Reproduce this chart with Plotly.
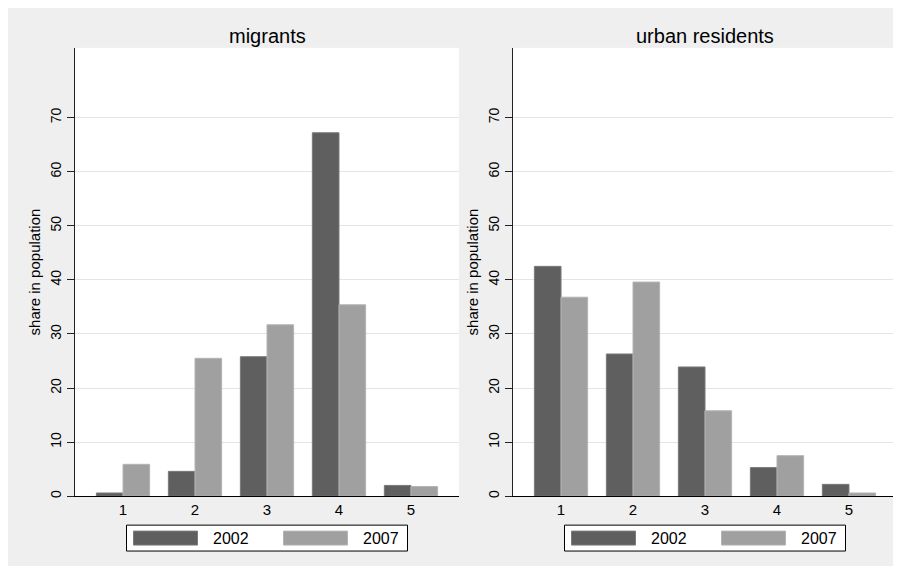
import plotly.graph_objects as go

# ---- data ----
categories = [1, 2, 3, 4, 5]
series_names = ["2002", "2007"]
migrants_2002 = [0.6, 4.6, 25.8, 67.2, 2.0]
migrants_2007 = [5.9, 25.5, 31.7, 35.4, 1.8]
urban_2002 = [42.5, 26.3, 23.9, 5.3, 2.2]
urban_2007 = [36.8, 39.6, 15.8, 7.5, 0.6]
panel_titles = ["migrants", "urban residents"]
y_title = "share in population"
y_ticks = [0, 10, 20, 30, 40, 50, 60, 70]

# ---- style ----
W, H = 891, 558          # figure size; the page adds an 8px body margin
OFF = 8
FONT = "Liberation Sans, Arial, sans-serif"
C2002, C2007 = "#5f5f5f", "#a0a0a0"
E2002, E2007 = "#7a7a7a", "#b4b4b4"
BG = "#efefef"

def px_x(p):
    return (p - OFF) / W

def px_y(p):
    return 1 - (p - OFF) / H

plot_top, plot_bot = 48, 498
panels_px = [(75, 459), (513, 897)]

fig = go.Figure()
data = [(migrants_2002, migrants_2007), (urban_2002, urban_2007)]
for i, (s02, s07) in enumerate(data):
    xa = "x" if i == 0 else "x2"
    ya = "y" if i == 0 else "y2"
    fig.add_trace(go.Bar(x=categories, y=s02, name=series_names[0], xaxis=xa, yaxis=ya,
                         marker=dict(color=C2002, line=dict(color=E2002, width=1)),
                         showlegend=False))
    fig.add_trace(go.Bar(x=categories, y=s07, name=series_names[1], xaxis=xa, yaxis=ya,
                         marker=dict(color=C2007, line=dict(color=E2007, width=1)),
                         showlegend=False))

ydom = [px_y(plot_bot), px_y(plot_top)]
axis_common_x = dict(range=[1 - 0.667, 5 + 0.667], tickvals=categories,
                     showline=True, linecolor="black", linewidth=1, ticks="",
                     showgrid=False, zeroline=False,
                     tickfont=dict(family=FONT, size=15, color="black"))
axis_common_y = dict(range=[0, 82.9], tickvals=y_ticks, showline=True,
                     linecolor="#222", linewidth=1, ticks="outside", ticklen=7,
                     tickcolor="#222", tickangle=-90, showgrid=True,
                     gridcolor="#e4e4e4", gridwidth=1, zeroline=False,
                     tickfont=dict(family=FONT, size=14, color="black"),
                     title=dict(text=y_title, font=dict(family=FONT, size=15, color="black"),
                                standoff=4))

fig.update_layout(
    width=W, height=H,
    margin=dict(l=0, r=0, t=0, b=0),
    paper_bgcolor=BG, plot_bgcolor="white",
    barmode="group", bargap=0.26, bargroupgap=0,
    font=dict(family=FONT, color="black"),
    xaxis=dict(domain=[px_x(panels_px[0][0]), px_x(panels_px[0][1])], anchor="y", **axis_common_x),
    xaxis2=dict(domain=[px_x(panels_px[1][0]), px_x(panels_px[1][1])], anchor="y2", **axis_common_x),
    yaxis=dict(domain=ydom, anchor="x", **axis_common_y),
    yaxis2=dict(domain=ydom, anchor="x2", **axis_common_y),
)

shapes = []
annotations = []
for i, (l, r) in enumerate(panels_px):
    cx = (l + r) / 2
    annotations.append(dict(text=panel_titles[i], x=px_x(cx), y=px_y(36), xref="paper", yref="paper",
                            showarrow=False, xanchor="center", yanchor="middle",
                            font=dict(family=FONT, size=20, color="black")))
    # legend box
    bl = cx - 140.5
    shapes.append(dict(type="rect", xref="paper", yref="paper", layer="above",
                       x0=px_x(bl), x1=px_x(bl + 281), y0=px_y(553), y1=px_y(527),
                       fillcolor="white", line=dict(color="black", width=1)))
    for k, (off, col, edge) in enumerate([(7, C2002, E2002), (157, C2007, E2007)]):
        shapes.append(dict(type="rect", xref="paper", yref="paper", layer="above",
                           x0=px_x(bl + off), x1=px_x(bl + off + 64), y0=px_y(547), y1=px_y(533),
                           fillcolor=col, line=dict(color=edge, width=1)))
        lab_c = bl + (104 if k == 0 else 254)
        annotations.append(dict(text=series_names[k], x=px_x(lab_c), y=px_y(540),
                                xref="paper", yref="paper", showarrow=False,
                                xanchor="center", yanchor="middle",
                                font=dict(family=FONT, size=16, color="black")))

fig.update_layout(shapes=shapes, annotations=annotations)
fig.write_html("out.html")
